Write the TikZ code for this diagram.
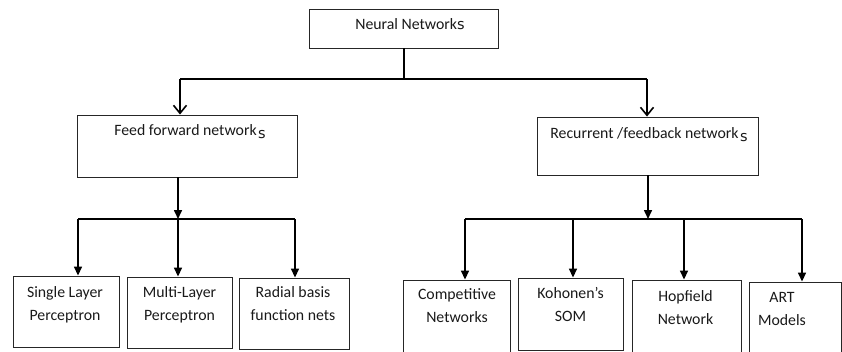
\documentclass[tikz,border=0pt]{standalone}
\usepackage{fontspec}
\setmainfont{Carlito}
\newfontfamily\tailfont{DejaVu Sans}
\usetikzlibrary{arrows.meta}
% trailing letter set in another face, as in the source document
\newcommand{\tails}[1][0pt]{\raisebox{#1}{\tailfont\fontsize{14.5}{14.5}\selectfont s}}
\begin{document}
\begin{tikzpicture}[x=1pt,y=-1pt,
  box/.style={draw=black!85, line width=0.9pt, inner sep=0pt},
  lbl/.style={font=\fontsize{15.8}{23}\selectfont, align=center, inner sep=0pt, text=black!90, anchor=base},
  link/.style={line width=1.6pt},
  tri/.style={link, -{Triangle[length=9pt,width=8pt]}},
  barb/.style={link, -{Straight Barb[length=8pt,width=13pt,line width=1.6pt]}}
]
\useasboundingbox (0,0) rectangle (842,351);

% level 0
\node[box, minimum width=189, minimum height=39] (nn) at (403.5,28.5) {};
\node[lbl] (nnt) at (410,29) {Neural Network\tails};

% level 1
\node[box, minimum width=220, minimum height=62] (ff) at (187,146) {};
\node[lbl] (fft) at (190,135) {Feed forward network\hspace{1.5pt}\tails[-3pt]};
\node[box, minimum width=221, minimum height=58] (rf) at (647.5,146) {};
\node[lbl] (rft) at (649,138) {Recurrent /feedback network\hspace{1.5pt}\tails[-3pt]};

% level 2, feed forward family (anchor is the baseline of the last line)
\node[box, minimum width=106, minimum height=71] (sl) at (66,311.5) {};
\node[lbl] (slt) at (65,320) {Single Layer\\Perceptron};
\node[box, minimum width=105, minimum height=71] (ml) at (179.5,312.5) {};
\node[lbl] (mlt) at (179.5,320) {Multi-Layer\\Perceptron};
\node[box, minimum width=110, minimum height=71] (rb) at (294,313.5) {};
\node[lbl] (rbt) at (293,320) {Radial basis\\function nets};

% level 2, recurrent family
\node[box, minimum width=107, minimum height=82] (cn) at (456.5,321) {};
\node[lbl] (cnt) at (457,322) {Competitive\\Networks};
\node[box, minimum width=105, minimum height=72] (ks) at (570.5,314) {};
\node[lbl] (kst) at (570.5,321) {Kohonen’s\\SOM};
\node[box, minimum width=109, minimum height=82] (hn) at (686.5,321) {};
\node[lbl] (hnt) at (685.5,324) {Hopfield\\Network};
\node[box, minimum width=92.5, minimum height=80] (am) at (795.25,322) {};
\node[lbl] (amt) at (782,325) {ART\\Models};

% branch points
\coordinate (j0) at (404,79);
\coordinate (jl) at (180,79);
\coordinate (jr) at (647,79);
\coordinate (j1) at (178,219);
\coordinate (b1) at (78,219);
\coordinate (b3) at (295,219);
\coordinate (j2) at (648,219);
\coordinate (c1) at (465,219);
\coordinate (c2) at (573,219);
\coordinate (c3) at (684,219);
\coordinate (c4) at (802,219);

% top split
\draw[link] (nn.south -| j0) -- (j0);
\draw[link] (jl) -- (jr);
\draw[barb] (jl) -- (jl |- ff.north);
\draw[barb] (jr) -- (jr |- rf.north);

% feed forward split
\draw[tri] (ff.south -| j1) -- (j1);
\draw[link] (b1) -- (b3);
\draw[tri] (b1) -- (b1 |- sl.north);
\draw[tri] (j1) -- (j1 |- ml.north);
\draw[tri] (b3) -- (b3 |- rb.north);

% recurrent split
\draw[tri] (rf.south -| j2) -- (j2);
\draw[link] (c1) -- (c4);
\draw[tri] (c1) -- (c1 |- cn.north);
\draw[tri] (c2) -- (c2 |- ks.north);
\draw[tri] (c3) -- (c3 |- hn.north);
\draw[tri] (c4) -- (c4 |- am.north);
\end{tikzpicture}
\end{document}
